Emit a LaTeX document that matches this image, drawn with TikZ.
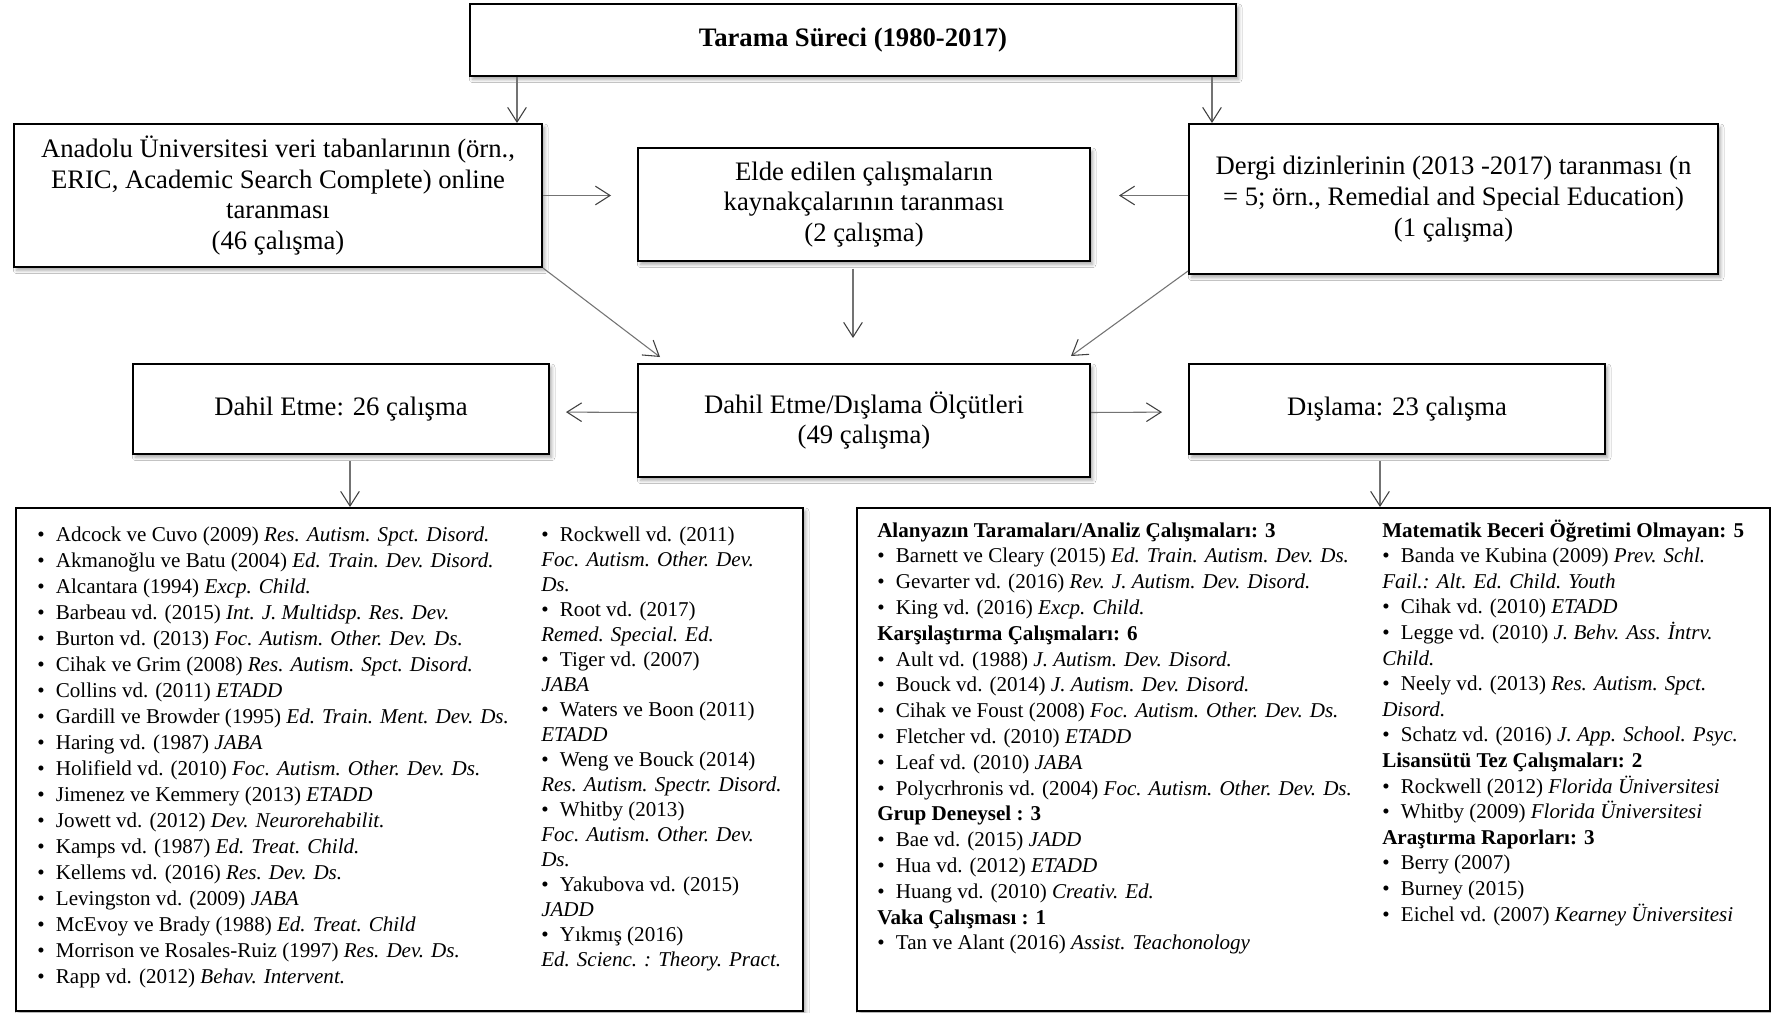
\documentclass[tikz,border=0pt]{standalone}
\usepackage{fontspec}
\setmainfont{Liberation Serif}
\usetikzlibrary{arrows.meta,shadows.blur,calc}
\newcommand{\mybul}{\makebox[14pt][l]{•}}
\newcommand{\boxfont}{\fontsize{20}{23}\selectfont}
\begin{document}
\begin{tikzpicture}[x=0.75pt,y=-0.75pt,
  box/.style={draw=black, line width=1.5pt, fill=white,
    blur shadow={shadow xshift=2pt, shadow yshift=-2.5pt, shadow blur radius=2.5pt, shadow opacity=35},
    inner sep=0pt, align=center, font=\boxfont},
  arr/.style={draw=black!55, line width=0.8pt, -{Straight Barb[length=11pt,width=14pt,line width=0.8pt,color=black!75]}},
  listtext/.style={anchor=base west, inner sep=0pt}]
\path[fill=white] (0,0) rectangle (1771,1013);
\useasboundingbox (0,0) rectangle (1771,1013);

% boxes
\node[box, minimum width=574.5pt, minimum height=54pt] (top) at (853,40) {\textbf{Tarama Süreci (1980-2017)}};
\node[box, minimum width=396pt, minimum height=107.25pt] (anadolu) at (278,195.5)
  {Anadolu Üniversitesi veri tabanlarının (örn.,\\ERIC, Academic Search Complete) online\\taranması\\(46 çalışma)};
\node[box, minimum width=339pt, minimum height=84.75pt] (elde) at (864,204.5)
  {Elde edilen çalışmaların\\kaynakçalarının taranması\\(2 çalışma)};
\node[box, minimum width=396.75pt, minimum height=112.5pt] (dergi) at (1453.5,199)
  {Dergi dizinlerinin (2013 -2017) taranması (n\\= 5; örn., Remedial and Special Education)\\(1 çalışma)};
\node[box, minimum width=312pt, minimum height=67.5pt] (dahil) at (341,409) {Dahil Etme: 26 çalışma};
\node[box, minimum width=339pt, minimum height=84.75pt] (olcut) at (864,420.5)
  {Dahil Etme/Dışlama Ölçütleri\\(49 çalışma)};
\node[box, minimum width=312pt, minimum height=67.5pt] (dislama) at (1397,409) {Dışlama: 23 çalışma};
\node[box, minimum width=590.25pt, minimum height=377.25pt] (inc) at (409.5,759.5) {};
\node[box, minimum width=684.75pt, minimum height=377.25pt] (exc) at (1313.5,759.5) {};

% helper coordinates
\coordinate (c1) at (517,0);
\coordinate (c2) at (1212,0);
\coordinate (c3) at (853,0);
\coordinate (c4) at (350,0);
\coordinate (c5) at (1380,0);

% connectors
\draw[arr] (top.south -| c1) -- (anadolu.north -| c1);
\draw[arr] (top.south -| c2) -- (dergi.north -| c2);
\draw[arr, shorten >=19.5pt] (anadolu.east) -- (anadolu.east -| elde.west);
\draw[arr, shorten >=21pt] (dergi.west |- anadolu.east) -- (anadolu.east -| elde.east);
\draw[arr, shorten <=5pt, shorten >=18.75pt] (elde.south -| c3) -- (olcut.north -| c3);
\draw[arr] (anadolu.south east) -- ($(olcut.north west)+(23,-6)$);
\draw[arr] ($(dergi.south west)+(0,-4)$) -- ($(olcut.north east)+(-20,-7)$);
\draw[arr, shorten >=12pt] ($(olcut.west)+(0,-8)$) -- ($(dahil.east)+(0,3)$);
\draw[arr, shorten >=19.5pt] ($(olcut.east)+(0,-8)$) -- ($(dislama.west)+(0,3)$);
\draw[arr, shorten <=4.5pt] (dahil.south -| c4) -- (inc.north -| c4);
\draw[arr, shorten <=4.5pt] (dislama.south -| c5) -- (exc.north -| c5);

% lists
\node[listtext] (inc1) at (37,541) {\fontsize{15.8}{19.5}\selectfont\parbox[t]{500pt}{\raggedright
\mybul Adcock ve Cuvo (2009) \textit{Res. Autism. Spct. Disord.}\\
\mybul Akmanoğlu ve Batu (2004) \textit{Ed. Train. Dev. Disord.}\\
\mybul Alcantara (1994) \textit{Excp. Child.}\\
\mybul Barbeau vd. (2015) \textit{Int. J. Multidsp. Res. Dev.}\\
\mybul Burton vd. (2013) \textit{Foc. Autism. Other. Dev. Ds.}\\
\mybul Cihak ve Grim (2008) \textit{Res. Autism. Spct. Disord.}\\
\mybul Collins vd. (2011) \textit{ETADD}\\
\mybul Gardill ve Browder (1995) \textit{Ed. Train. Ment. Dev. Ds.}\\
\mybul Haring vd. (1987) \textit{JABA}\\
\mybul Holifield vd. (2010) \textit{Foc. Autism. Other. Dev. Ds.}\\
\mybul Jimenez ve Kemmery (2013) \textit{ETADD}\\
\mybul Jowett vd. (2012) \textit{Dev. Neurorehabilit.}\\
\mybul Kamps vd. (1987) \textit{Ed. Treat. Child.}\\
\mybul Kellems vd. (2016) \textit{Res. Dev. Ds.}\\
\mybul Levingston vd. (2009) \textit{JABA}\\
\mybul McEvoy ve Brady (1988) \textit{Ed. Treat. Child}\\
\mybul Morrison ve Rosales-Ruiz (1997) \textit{Res. Dev. Ds.}\\
\mybul Rapp vd. (2012) \textit{Behav. Intervent.}}};

\node[listtext] (inc2) at (541,541) {\fontsize{15.8}{18.75}\selectfont\parbox[t]{300pt}{\raggedright
\mybul Rockwell vd. (2011)\\
\textit{Foc. Autism. Other. Dev.}\\
\textit{Ds.}\\
\mybul Root vd. (2017)\\
\textit{Remed. Special. Ed.}\\
\mybul Tiger vd. (2007)\\
\textit{JABA}\\
\mybul Waters ve Boon (2011)\\
\textit{ETADD}\\
\mybul Weng ve Bouck (2014)\\
\textit{Res. Autism. Spectr. Disord.}\\
\mybul Whitby (2013)\\
\textit{Foc. Autism. Other. Dev.}\\
\textit{Ds.}\\
\mybul Yakubova vd. (2015)\\
\textit{JADD}\\
\mybul Yıkmış (2016)\\
\textit{Ed. Scienc. : Theory. Pract.}}};

\node[listtext] (exc1) at (877,537) {\fontsize{15.8}{19.35}\selectfont\parbox[t]{480pt}{\raggedright
\textbf{Alanyazın Taramaları/Analiz Çalışmaları: 3}\\
\mybul Barnett ve Cleary (2015) \textit{Ed. Train. Autism. Dev. Ds.}\\
\mybul Gevarter vd. (2016) \textit{Rev. J. Autism. Dev. Disord.}\\
\mybul King vd. (2016) \textit{Excp. Child.}\\
\textbf{Karşılaştırma Çalışmaları: 6}\\
\mybul Ault vd. (1988) \textit{J. Autism. Dev. Disord.}\\
\mybul Bouck vd. (2014) \textit{J. Autism. Dev. Disord.}\\
\mybul Cihak ve Foust (2008) \textit{Foc. Autism. Other. Dev. Ds.}\\
\mybul Fletcher vd. (2010) \textit{ETADD}\\
\mybul Leaf vd. (2010) \textit{JABA}\\
\mybul Polycrhronis vd. (2004) \textit{Foc. Autism. Other. Dev. Ds.}\\
\textbf{Grup Deneysel : 3}\\
\mybul Bae vd. (2015) \textit{JADD}\\
\mybul Hua vd. (2012) \textit{ETADD}\\
\mybul Huang vd. (2010) \textit{Creativ. Ed.}\\
\textbf{Vaka Çalışması : 1}\\
\mybul Tan ve Alant (2016) \textit{Assist. Teachonology}}};

\node[listtext] (exc2) at (1382,537) {\fontsize{15.8}{19.2}\selectfont\parbox[t]{350pt}{\raggedright
\textbf{Matematik Beceri Öğretimi Olmayan: 5}\\
\mybul Banda ve Kubina (2009) \textit{Prev. Schl.}\\
\textit{Fail.: Alt. Ed. Child. Youth}\\
\mybul Cihak vd. (2010) \textit{ETADD}\\
\mybul Legge vd. (2010) \textit{J. Behv. Ass. İntrv.}\\
\textit{Child.}\\
\mybul Neely vd. (2013) \textit{Res. Autism. Spct.}\\
\textit{Disord.}\\
\mybul Schatz vd. (2016) \textit{J. App. School. Psyc.}\\
\textbf{Lisansütü Tez Çalışmaları: 2}\\
\mybul Rockwell (2012) \textit{Florida Üniversitesi}\\
\mybul Whitby (2009) \textit{Florida Üniversitesi}\\
\textbf{Araştırma Raporları: 3}\\
\mybul Berry (2007)\\
\mybul Burney (2015)\\
\mybul Eichel vd. (2007) \textit{Kearney Üniversitesi}}};
\end{tikzpicture}
\end{document}
